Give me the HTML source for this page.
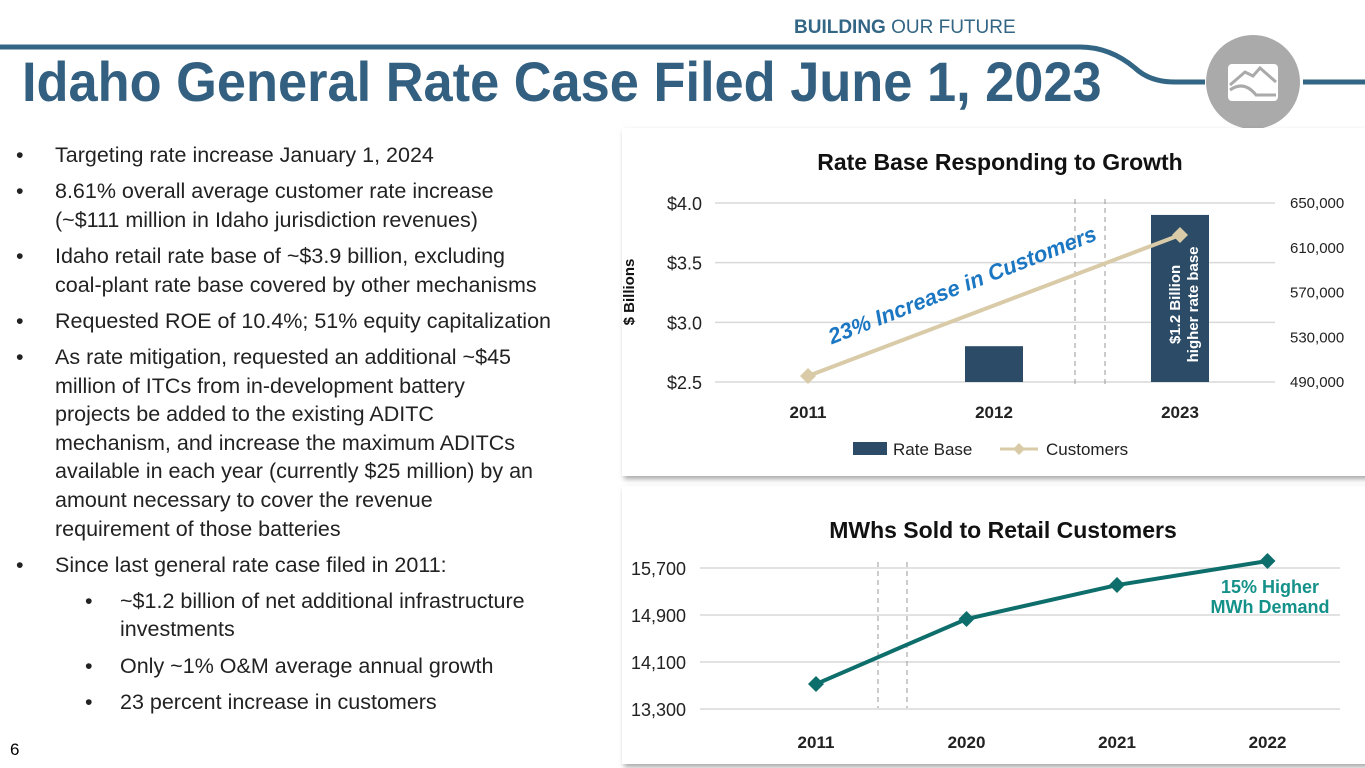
<!DOCTYPE html>
<html><head><meta charset="utf-8"><style>
body{margin:0;width:1365px;height:768px;background:#fff;font-family:"Liberation Sans",sans-serif;position:relative;overflow:hidden}
.t{position:absolute}
#bul{position:absolute;left:0;top:141px;font-size:21.5px;color:#222;line-height:28.6px}
#bul div{position:relative;padding-left:55px;margin-bottom:0;white-space:nowrap}
#bul div.g{margin-top:7.6px}
#bul div::before{content:"•";position:absolute;left:16px}
#bul div.s{padding-left:120px}
#bul div.s::before{left:85px}
.card{position:absolute;background:#fff;box-shadow:2px 3px 5px rgba(0,0,0,.35)}
</style></head><body>
<svg class="t" style="left:0;top:0" width="1365" height="130">
<path d="M0 47 L1080 47 Q1110 47 1135 68 Q1150 82 1175 82 L1205 82" stroke="#336585" stroke-width="5" fill="none"/>
<line x1="1303" y1="82" x2="1365" y2="82" stroke="#336585" stroke-width="5"/>
<circle cx="1253" cy="82" r="47" fill="#aaaaaa"/>
<rect x="1228" y="64" width="50" height="37" rx="4" fill="#fff"/>
<path d="M1230 85 L1245 72 L1253 76 L1260 68 L1276 82 M1230 90 Q1244 80 1256 95 L1276 95" stroke="#aaa" stroke-width="3" fill="none"/>
</svg>
<div class="t" style="left:794px;top:17px;font-size:19px;color:#336585"><b>BUILDING</b> OUR FUTURE</div>
<div class="t" style="left:22px;top:49px;font-size:56px;font-weight:bold;color:#336080;transform:scaleX(0.935);transform-origin:0 0;white-space:nowrap">Idaho General Rate Case Filed June 1, 2023</div>
<div id="bul">
<div>Targeting rate increase January 1, 2024</div>
<div class="g">8.61% overall average customer rate increase<br>(~$111 million in Idaho jurisdiction revenues)</div>
<div class="g">Idaho retail rate base of ~$3.9 billion, excluding<br>coal-plant rate base covered by other mechanisms</div>
<div class="g">Requested ROE of 10.4%; 51% equity capitalization</div>
<div class="g">As rate mitigation, requested an additional ~$45<br>million of ITCs from in-development battery<br>projects be added to the existing ADITC<br>mechanism, and increase the maximum ADITCs<br>available in each year (currently $25 million) by an<br>amount necessary to cover the revenue<br>requirement of those batteries</div>
<div class="g">Since last general rate case filed in 2011:</div>
<div class="s g">~$1.2 billion of net additional infrastructure<br>investments</div>
<div class="s g">Only ~1% O&amp;M average annual growth</div>
<div class="s g">23 percent increase in customers</div>
</div>
<div class="t" style="left:10px;top:740px;font-size:17px">6</div>
<div class="card" style="left:622px;top:128px;width:745px;height:348px"></div>
<div class="card" style="left:622px;top:486px;width:745px;height:278px"></div>
<svg class="t" id="c1" style="left:0;top:0" width="1365" height="768"></svg>
<script>
const cats1=["2011","2012","2023"];
const rateBase=[2.5,2.8,3.9];
const customers=[495400,621400];
const leftTicks=[2.5,3.0,3.5,4.0];
const leftLabels=["$2.5","$3.0","$3.5","$4.0"];
const rightTicks=[490000,530000,570000,610000,650000];
const cats2=["2011","2020","2021","2022"];
const mwh=[13725,14832,15410,15819];
const ticks2=[13300,14100,14900,15700];
const NS="http://www.w3.org/2000/svg";
const svg=document.getElementById('c1');
function mk(t,a,txt){const e=document.createElementNS(NS,t);for(const k in a)e.setAttribute(k,a[k]);if(txt!=null)e.textContent=txt;svg.appendChild(e);return e;}
const F='"Liberation Sans",sans-serif';
const x1=i=>808+i*186, yL=v=>382-(v-2.5)/1.5*179, yR=v=>382-(v-490000)/160000*179;
let e=mk('text',{x:1000,y:170,'text-anchor':'middle','font-size':23,'font-weight':'bold','font-family':F,fill:'#111'},'Rate Base Responding to Growth');

leftTicks.forEach((v,i)=>{e=mk('line',{x1:715,x2:1275,y1:yL(v),y2:yL(v),stroke:'#d9d9d9','stroke-width':1.5});
e=mk('text',{x:702,y:yL(v)+7,'text-anchor':'end','font-size':18,'font-family':F,fill:'#222'},leftLabels[i]);});
rightTicks.forEach(v=>{e=mk('text',{x:1290,y:yR(v)+5,'font-size':15,'font-family':F,fill:'#222'},v.toLocaleString('en-US'));});
e=mk('text',{x:0,y:0,transform:'translate(634,292) rotate(-90)','text-anchor':'middle','font-size':15,'font-weight':'bold','font-family':F,fill:'#111'},'$ Billions');
[1075,1105].forEach(x=>{e=mk('line',{x1:x,x2:x,y1:199,y2:384,stroke:'#999','stroke-dasharray':'5,4'});});
rateBase.forEach((v,i)=>{e=mk('rect',{x:x1(i)-29,y:yL(v),width:58,height:382-yL(v),fill:'#2b4b66'});
e=mk('text',{x:x1(i),y:418,'text-anchor':'middle','font-size':17,'font-weight':'bold','font-family':F,fill:'#222'},cats1[i]);});
e=mk('text',{x:0,y:0,transform:`translate(${x1(2)+4},${yL(3.15)}) rotate(-90)`,'text-anchor':'middle','font-size':15,'font-weight':'bold','font-family':F,fill:'#fff'});
e.innerHTML='<tspan x="0" dy="-4">$1.2 Billion</tspan><tspan x="0" dy="18">higher rate base</tspan>';
const cx=[x1(0),x1(2)];
e=mk('polyline',{points:customers.map((v,i)=>cx[i]+','+yR(v)).join(' '),fill:'none',stroke:'#d9cba8','stroke-width':4});
customers.forEach((v,i)=>{e=mk('path',{d:`M${cx[i]} ${yR(v)-8}l8 8l-8 8l-8 -8z`,fill:'#d9cba8'});});
e=mk('text',{x:0,y:0,transform:'translate(965,292) rotate(-21.5)','text-anchor':'middle','font-size':22,'font-weight':'bold','font-style':'italic','font-family':F,fill:'#1c77c3'},'23% Increase in Customers');
e=mk('rect',{x:853,y:442,width:34,height:13,fill:'#2b4b66'});
e=mk('text',{x:893,y:455,'font-size':17,'font-family':F,fill:'#222'},'Rate Base');
e=mk('line',{x1:1000,x2:1038,y1:449,y2:449,stroke:'#d9cba8','stroke-width':3});
mk('path',{d:'M1019 443l6 6l-6 6l-6 -6z',fill:'#d9cba8'});
e=mk('text',{x:1046,y:455,'font-size':17,'font-family':F,fill:'#222'},'Customers');
const x2=i=>816+i*150.5, y2=v=>709-(v-13300)/800*47;
e=mk('text',{x:1003,y:538,'text-anchor':'middle','font-size':23,'font-weight':'bold','font-family':F,fill:'#111'},'MWhs Sold to Retail Customers');
ticks2.forEach(v=>{e=mk('line',{x1:700,x2:1340,y1:y2(v),y2:y2(v),stroke:'#d9d9d9','stroke-width':1.5});
e=mk('text',{x:686,y:y2(v)+7,'text-anchor':'end','font-size':18,'font-family':F,fill:'#222'},v.toLocaleString('en-US'));});
[878,907].forEach(x=>{e=mk('line',{x1:x,x2:x,y1:562,y2:708,stroke:'#999','stroke-dasharray':'5,4'});});
e=mk('polyline',{points:mwh.map((v,i)=>x2(i)+','+y2(v)).join(' '),fill:'none',stroke:'#0e6e6b','stroke-width':4});
mwh.forEach((v,i)=>{e=mk('path',{d:`M${x2(i)} ${y2(v)-8}l8 8l-8 8l-8 -8z`,fill:'#0e6e6b'});
e=mk('text',{x:x2(i),y:748,'text-anchor':'middle','font-size':17,'font-weight':'bold','font-family':F,fill:'#222'},cats2[i]);});
e=mk('text',{x:1270,y:593,'text-anchor':'middle','font-size':18,'font-weight':'bold','font-family':F,fill:'#149189'},'15% Higher');
e=mk('text',{x:1270,y:613,'text-anchor':'middle','font-size':18,'font-weight':'bold','font-family':F,fill:'#149189'},'MWh Demand');
</script>
</body></html>
